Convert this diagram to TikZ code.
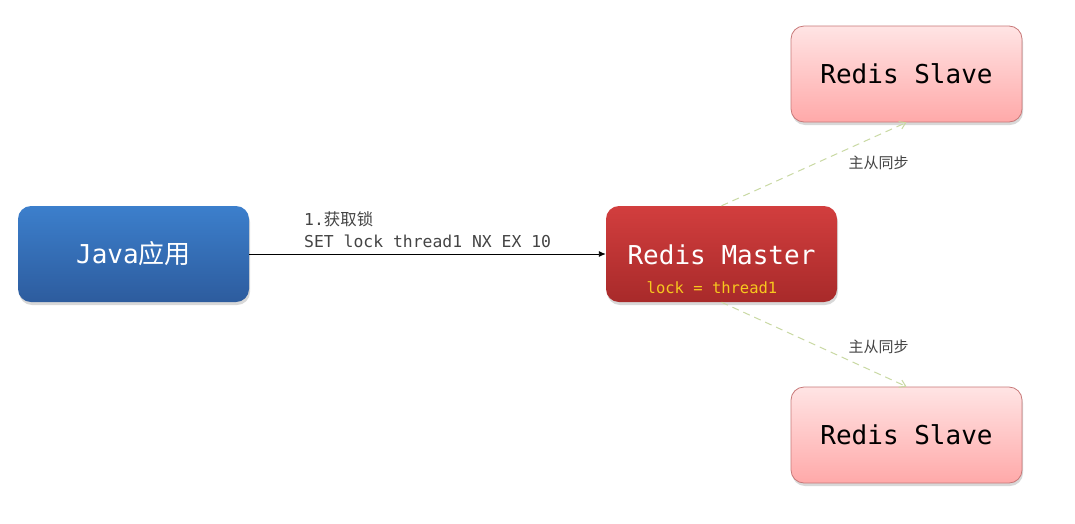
\documentclass[tikz,border=0pt]{standalone}
\usepackage{fontspec}
\setmonofont{DejaVu Sans Mono}
\newfontfamily\cjk{Noto Sans CJK SC}
\usetikzlibrary{arrows.meta,shadows,shadings}
\definecolor{javatop}{HTML}{3C7FCC}
\definecolor{javabot}{HTML}{2D5C9E}
\definecolor{mastertop}{HTML}{D23E3E}
\definecolor{masterbot}{HTML}{A82A2A}
\definecolor{slavetop}{HTML}{FFE4E4}
\definecolor{slavebot}{HTML}{FFA9A9}
\definecolor{slaveline}{HTML}{C77878}
\definecolor{syncline}{HTML}{C9D9A3}
\definecolor{labelgray}{HTML}{444444}
\definecolor{lockyellow}{HTML}{F7C81E}
\tikzset{
  boxbase/.style={rounded corners=13pt, minimum width=231pt, minimum height=96pt,
    inner sep=0pt, align=center,
    drop shadow={shadow xshift=1pt, shadow yshift=-3pt, opacity=0.25, fill=black!60}},
  javabox/.style={boxbase, top color=javatop, bottom color=javabot, text=white,
    font=\fontsize{26}{28}\selectfont\ttfamily},
  masterbox/.style={boxbase, top color=mastertop, bottom color=masterbot, text=white,
    font=\fontsize{26}{28}\selectfont\ttfamily},
  slavebox/.style={boxbase, top color=slavetop, bottom color=slavebot, draw=slaveline,
    line width=0.8pt, text=black, font=\fontsize{26}{28}\selectfont\ttfamily},
  mainarrow/.style={draw=black, line width=0.9pt, -{Latex[length=7pt,width=6pt]}},
  syncarrow/.style={draw=syncline, line width=1pt, dash pattern=on 7pt off 5pt,
    -{Straight Barb[length=6pt,width=8pt]}},
  cmdlabel/.style={text=labelgray, font=\fontsize{16.4}{22}\selectfont\ttfamily, anchor=west, inner sep=0pt},
  synclabel/.style={text=labelgray, font=\fontsize{15}{17}\selectfont\cjk, inner sep=0pt},
}
\begin{document}
\begin{tikzpicture}[x=1pt,y=-1pt]
\useasboundingbox (0,0) rectangle (1075,523);
\fill[white] (0,0) rectangle (1075,523);
\node[javabox] (java) at (133.5,254) {Java{\cjk 应用}};
\node[masterbox] (master) at (721.5,254) {};
\node[text=white, font=\fontsize{26}{28}\selectfont\ttfamily, inner sep=0pt] (mastertext) at (721.5,255) {Redis Master};
\node[text=lockyellow, font=\fontsize{15.5}{18}\selectfont\ttfamily, inner sep=0pt] (lock) at (712,288) {lock = thread1};
\node[slavebox] (slave1) at (906.5,74) {Redis Slave};
\node[slavebox] (slave2) at (906.5,435) {Redis Slave};
\draw[mainarrow] (java.east) -- (master.west);
\node[cmdlabel] (step) at (304,219) {1.{\cjk 获取锁}};
\node[cmdlabel] (cmd) at (304,241) {SET lock thread1 NX EX 10};
\draw[syncarrow] (master.north) -- (slave1.south);
\draw[syncarrow] (master.south) -- (slave2.north);
\node[synclabel] (sync1) at (878.5,163) {主从同步};
\node[synclabel] (sync2) at (878.5,347) {主从同步};
\end{tikzpicture}
\end{document}
